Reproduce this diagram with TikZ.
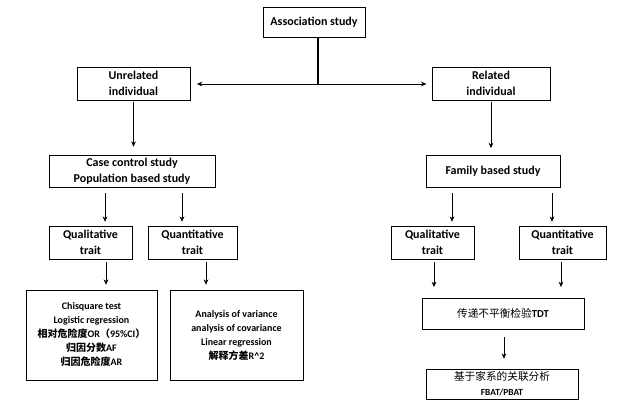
\documentclass[tikz,border=0pt]{standalone}
\usepackage{fontspec}
\setmainfont{Carlito}
\newfontfamily\cjk{Noto Sans CJK SC}
\usetikzlibrary{arrows.meta}
\newcommand{\zh}[1]{{\cjk #1}}
\newcommand{\zhlight}[1]{{\cjk\mdseries #1}}

\begin{document}
\begin{tikzpicture}[x=0.75pt,y=-0.75pt, font=\bfseries\fontsize{9}{12}\selectfont,
  box/.style={draw, thin, inner sep=0pt, align=center},
  bigbox/.style={box, font=\bfseries\fontsize{7.5}{10.5}\selectfont},
  arr/.style={-{Stealth[length=4pt,width=3.5pt]}, thin}]
\useasboundingbox (0,0) rectangle (619,410);
%
% Boites :
\node[box, minimum width=76.5pt, minimum height=22.5pt] (assoc) at (314,22) {Association study};
\node[box, minimum width=84.75pt, minimum height=24.75pt] (unrel) at (133.5,83.5) {Unrelated\\individual};
\node[box, minimum width=88.5pt, minimum height=24.75pt] (rel) at (491,83.5) {Related\\individual};
\node[box, minimum width=124.5pt, minimum height=24pt] (casectl) at (132,171) {Case control study\\Population based study};
\node[box, minimum width=100.5pt, minimum height=24pt] (family) at (493,171) {Family based study};
\node[box, minimum width=62.25pt, minimum height=24.75pt] (qualL) at (90.5,242.5) {Qualitative\\trait};
\node[box, minimum width=66.75pt, minimum height=24.75pt] (quantL) at (192.5,242.5) {Quantitative\\trait};
\node[box, minimum width=62.25pt, minimum height=24.75pt] (qualR) at (432.5,242.5) {Qualitative\\trait};
\node[box, minimum width=65.25pt, minimum height=24.75pt] (quantR) at (562.5,242.5) {Quantitative\\trait};
\node[bigbox, minimum width=98.25pt, minimum height=67.5pt] (chi) at (91.5,335)
  {Chisquare test\\Logistic regression\\\zh{相对危险度}OR\zh{（}95\%CI\zh{）}\\\zh{归因分数}AF\\\zh{归因危险度}AR};
\node[bigbox, minimum width=99.75pt, minimum height=67.5pt] (anova) at (236.5,335)
  {Analysis of variance\\analysis of covariance\\Linear regression\\\zh{解释方差}R\^{}2};
\node[box, minimum width=121.5pt, minimum height=23.25pt, font=\bfseries\fontsize{8}{11}\selectfont] (tdt) at (503,313.5)
  {\zhlight{传递不平衡检验}TDT};
\node[box, minimum width=114pt, minimum height=22.5pt, font=\bfseries\fontsize{8}{11}\selectfont] (fbat) at (502,384)
  {\zhlight{基于家系的关联分析}\\{\fontsize{7}{9}\selectfont FBAT/PBAT}};
%
% Fleches :
\coordinate (split) at (318,84);
\coordinate (colA) at (105,0);
\coordinate (colB) at (182,0);
\coordinate (colC) at (106,0);
\coordinate (colD) at (206,0);
\coordinate (colE) at (452,0);
\coordinate (colF) at (552,0);
\coordinate (colG) at (434,0);
\coordinate (colH) at (561,0);
\coordinate (colI) at (504,0);
\draw[line width=1.5pt] (split |- assoc.south) -- (split);
\draw[arr, shorten >=5pt] (split) -- (split -| unrel.east);
\draw[arr, shorten >=4pt] (split) -- (split -| rel.west);
\draw[arr, shorten <=1pt, shorten >=6pt] (unrel.south) -- (unrel.south |- casectl.north);
\draw[arr, shorten <=1pt, shorten >=5pt] (rel.south) -- (rel.south |- family.north);
\draw[arr, shorten <=4.5pt, shorten >=3pt] (casectl.south -| colA) -- (qualL.north -| colA);
\draw[arr, shorten <=4.5pt, shorten >=3pt] (casectl.south -| colB) -- (quantL.north -| colB);
\draw[arr, shorten <=4.5pt, shorten >=3pt] (family.south -| colE) -- (qualR.north -| colE);
\draw[arr, shorten <=4.5pt, shorten >=3pt] (family.south -| colF) -- (quantR.north -| colF);
\draw[arr, shorten <=2.25pt, shorten >=3.75pt] (qualL.south -| colC) -- (chi.north -| colC);
\draw[arr, shorten <=2.25pt, shorten >=3.75pt] (quantL.south -| colD) -- (anova.north -| colD);
\draw[arr, shorten <=2.25pt, shorten >=8pt] (qualR.south -| colG) -- (tdt.north -| colG);
\draw[arr, shorten <=2.25pt, shorten >=8pt] (quantR.south -| colH) -- (tdt.north -| colH);
\draw[arr, shorten <=6pt, shorten >=7.5pt] (tdt.south -| colI) -- (fbat.north -| colI);
\end{tikzpicture}
\end{document}
